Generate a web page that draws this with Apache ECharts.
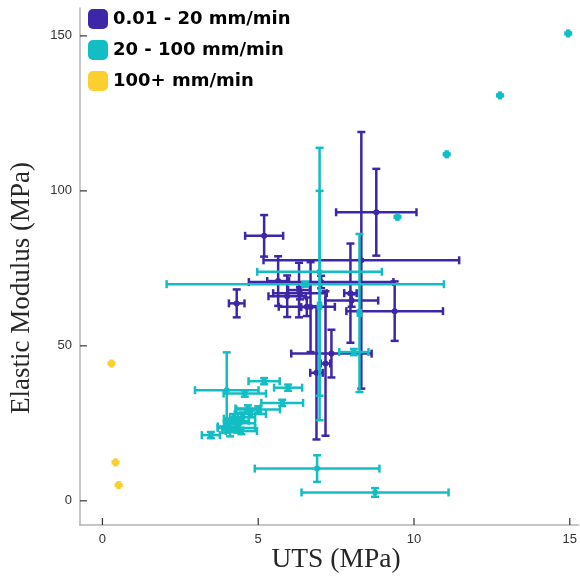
<!DOCTYPE html>
<html>
<head>
<meta charset="utf-8">
<script src="https://cdn.jsdelivr.net/npm/echarts@6/dist/echarts.min.js"></script>
<style>
html,body{margin:0;padding:0;background:#fff;}
#chart{width:580px;height:578px;}
</style>
</head>
<body>
<div id="chart"></div>
<script>
// Each point: [UTS (MPa), UTS error, Elastic modulus (MPa), modulus error]
const seriesNames = ['0.01 - 20 mm/min', '20 - 100 mm/min', '100+ mm/min'];
const seriesColors = ['#3e26a8', '#13bdc4', '#fbcf30'];

const slowPoints = [
  [8.79, 1.29, 93.1, 14.0],
  [8.31, 3.14, 77.6, 41.4],
  [9.38, 1.55, 61.2, 9.6],
  [5.19, 0.61, 85.5, 6.7],
  [4.31, 0.25, 63.7, 4.5],
  [7.02, 2.32, 70.6, 2.0],
  [5.64, 0.35, 70.9, 8.0],
  [5.93, 0.60, 66.0, 6.7],
  [6.31, 0.35, 68.0, 8.8],
  [7.96, 0.20, 67.0, 16.0],
  [8.00, 0.85, 64.6, 2.0],
  [6.87, 0.20, 41.3, 21.5],
  [7.16, 0.15, 44.3, 23.3],
  [7.35, 1.29, 47.5, 7.7],
  [6.68, 0.30, 62.5, 14.5],
  [6.34, 0.86, 67.0, 2.0],
  [6.56, 0.90, 62.6, 3.0]
];

const midPoints = [
  [14.95, 0.03, 150.8, 0.3],
  [12.76, 0.03, 130.8, 0.3],
  [11.05, 0.03, 111.8, 0.3],
  [9.47, 0.03, 91.6, 0.3],
  [6.97, 2.00, 73.9, 40.0],
  [6.97, 0.05, 63.0, 37.0],
  [6.51, 4.45, 69.9, 0.8],
  [8.25, 0.05, 60.6, 25.5],
  [8.07, 0.47, 48.0, 1.0],
  [3.99, 1.02, 35.7, 12.2],
  [5.19, 0.50, 38.6, 1.0],
  [5.96, 0.45, 36.5, 1.0],
  [4.57, 0.68, 34.6, 1.0],
  [5.77, 0.67, 31.6, 1.0],
  [5.00, 0.70, 29.5, 1.0],
  [4.67, 0.40, 29.8, 1.0],
  [3.48, 0.29, 21.2, 1.0],
  [4.46, 0.50, 22.5, 1.0],
  [4.20, 0.30, 26.5, 1.5],
  [4.40, 0.50, 25.0, 1.5],
  [4.00, 0.30, 24.0, 2.0],
  [4.50, 0.40, 27.0, 1.5],
  [4.30, 0.60, 23.5, 1.5],
  [4.75, 0.50, 28.0, 1.0],
  [4.10, 0.25, 22.8, 2.0],
  [4.35, 0.35, 25.8, 2.5],
  [6.89, 2.00, 10.4, 4.3],
  [8.75, 2.36, 2.7, 1.4]
];

const fastPoints = [
  [0.29, 0.03, 44.3, 0.3],
  [0.42, 0.03, 12.4, 0.3],
  [0.52, 0.03, 5.1, 0.3]
];

const xTicks = [0, 5, 10, 15];
const yTicks = [0, 50, 100, 150];

const X_MIN = -0.72, X_MAX = 15.28, Y_MIN = -7.8, Y_MAX = 159;

const chart = echarts.init(document.getElementById('chart'), null, {renderer: 'canvas'});

function makeRender(color) {
  return function (params, api) {
    const x = api.value(0), xe = api.value(1), y = api.value(2), ye = api.value(3);
    const c = api.coord([x, y]);
    const l = api.coord([x - xe, y]);
    const r = api.coord([x + xe, y]);
    const t = api.coord([x, y + ye]);
    const b = api.coord([x, y - ye]);
    const cap = 4;
    const st = {stroke: color, lineWidth: 2.5, fill: null};
    const line = (x1, y1, x2, y2) => ({type: 'line', shape: {x1, y1, x2, y2}, style: st});
    return {
      type: 'group',
      children: [
        line(l[0], l[1], r[0], r[1]),
        line(t[0], t[1], b[0], b[1]),
        line(l[0], l[1] - cap, l[0], l[1] + cap),
        line(r[0], r[1] - cap, r[0], r[1] + cap),
        line(t[0] - cap, t[1], t[0] + cap, t[1]),
        line(b[0] - cap, b[1], b[0] + cap, b[1]),
        {type: 'circle', shape: {cx: c[0], cy: c[1], r: 3}, style: {fill: color}}
      ]
    };
  };
}

const tickStyle = {stroke: '#333333', lineWidth: 1.2, fill: null};
function renderXTick(params, api) {
  const p = api.coord([api.value(0), api.value(1)]);
  return {type: 'rect', shape: {x: p[0] - 0.6, y: p[1] - 7, width: 1.2, height: 7}, style: {fill: '#333333'}};
}
function renderYTick(params, api) {
  const p = api.coord([api.value(0), api.value(1)]);
  return {type: 'rect', shape: {x: p[0], y: p[1] - 0.6, width: 7, height: 1.2}, style: {fill: '#333333'}};
}

const allData = [slowPoints, midPoints, fastPoints];

const option = {
  animation: false,
  backgroundColor: '#fff',
  grid: {left: 80, right: 0, top: 8, bottom: 53, containLabel: false},
  legend: {
    orient: 'vertical', left: 83, top: 4, itemGap: 11,
    itemWidth: 20, itemHeight: 20, icon: 'roundRect',
    data: seriesNames,
    textStyle: {fontFamily: 'DejaVu Sans', fontWeight: 'bold', fontSize: 18, color: '#000'}
  },
  xAxis: {
    type: 'value', min: X_MIN, max: X_MAX,
    splitLine: {show: false},
    axisLine: {onZero: false, lineStyle: {color: '#b3b3b3', width: 1.5}},
    axisTick: {show: false},
    axisLabel: {customValues: xTicks, margin: 8, color: '#333', fontSize: 13, fontFamily: 'Liberation Sans'}
  },
  yAxis: {
    type: 'value', min: Y_MIN, max: Y_MAX,
    splitLine: {show: false},
    axisLine: {onZero: false, lineStyle: {color: '#b3b3b3', width: 1.5}},
    axisTick: {show: false},
    axisLabel: {customValues: yTicks, margin: 8, color: '#333', fontSize: 13, fontFamily: 'Liberation Sans'}
  },
  graphic: [
    {type: 'text', x: 336, y: 560, style: {text: 'UTS (MPa)', font: '27.5px "Liberation Serif"', fill: '#262626', textAlign: 'center', textVerticalAlign: 'middle'}},
    {type: 'text', x: 22, y: 288, rotation: Math.PI / 2, style: {text: 'Elastic Modulus (MPa)', font: '27px "Liberation Serif"', fill: '#262626', textAlign: 'center', textVerticalAlign: 'middle'}}
  ],
  series: [
    {type: 'custom', name: 'xticks', renderItem: renderXTick, data: xTicks.map(v => [v, Y_MIN]), encode: {x: 0, y: 1}, clip: false, silent: true, z: 10},
    {type: 'custom', name: 'yticks', renderItem: renderYTick, data: yTicks.map(v => [X_MIN, v]), encode: {x: 0, y: 1}, clip: false, silent: true, z: 10}
  ].concat(seriesNames.map((name, i) => ({
    name: name,
    type: 'custom',
    renderItem: makeRender(seriesColors[i]),
    itemStyle: {color: seriesColors[i]},
    encode: {x: 0, y: 2},
    data: allData[i],
    clip: false,
    z: 2 + i
  })))
};
chart.setOption(option);
</script>
</body>
</html>
